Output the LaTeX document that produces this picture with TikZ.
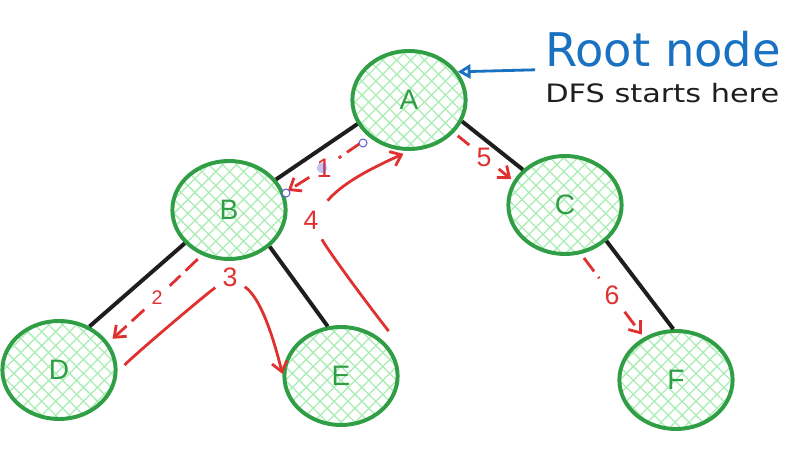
\documentclass[tikz,border=0pt]{standalone}
\usepackage{fontspec}
\setmainfont{Liberation Sans}
\newfontfamily\notefont{DejaVu Sans}
\usepackage{xcolor}
\definecolor{nodegreen}{HTML}{2F9E44}
\definecolor{hatchgreen}{HTML}{A9EDB3}
\definecolor{walkred}{HTML}{E03131}
\definecolor{noteblue}{HTML}{1971C2}
\definecolor{edgeblack}{HTML}{1E1E1E}
\definecolor{handleblue}{HTML}{5B57D1}
\usetikzlibrary{shapes.geometric, arrows.meta, patterns.meta}

\begin{document}
\begin{tikzpicture}[x=0.025cm, y=-0.025cm,
	vertex/.style={ellipse, draw=nodegreen, line width=2.8pt, minimum width=2.83cm, minimum height=2.45cm,
	               text=nodegreen, font=\fontsize{20}{24}\selectfont,
	               preaction={pattern={Lines[angle=45, distance=7pt, line width=0.9pt]}, pattern color=hatchgreen},
	               preaction={pattern={Lines[angle=-45, distance=7pt, line width=0.9pt]}, pattern color=hatchgreen}},
	edge/.style={draw=edgeblack, line width=2.8pt},
	walk/.style={draw=walkred, line width=2pt},
	walkarr/.style={walk, -{Straight Barb[length=7pt, width=11pt]}},
	dashwalk/.style={dash pattern=on 12pt off 5pt},
	num/.style={text=walkred, font=\fontsize{19}{22}\selectfont, inner sep=5pt},
	pointer/.style={draw=noteblue, line width=2pt, -{Triangle[open, length=9pt, width=10pt]}},
	rootnote/.style={text=noteblue, font=\notefont\fontsize{33}{36}\selectfont, inner sep=0pt},
	subnote/.style={text=edgeblack, font=\notefont\fontsize{18}{20}\selectfont, inner sep=0pt},
	handle/.style={draw=handleblue, fill=white, line width=0.7pt}
	]
\fill[white] (0,0) rectangle (785,457);
\useasboundingbox (0,0) rectangle (785,457);

\node[vertex] (A) at (409,100) {A};
\node[vertex] (B) at (229,210) {B};
\node[vertex] (C) at (565,205) {C};
\node[vertex] (D) at (59,370)  {D};
\node[vertex] (E) at (341,376) {E};
\node[vertex] (F) at (676,380) {F};

% tree edges
\draw[edge] (A.205) -- (B.33);
\draw[edge] (B.217) -- (D.55);
\draw[edge] (B.318) -- (E.105);
\draw[edge] (A.338) -- (C.140);
\draw[edge] (C.319) -- (F.93);

% visit order
\node[num] (l1) at (324,168) {1};
\node[num, font=\fontsize{14}{16}\selectfont] (l2) at (157,298) {2};
\node[num] (l3) at (230,277) {3};
\node[num, inner sep=7pt] (l4) at (311,220) {4};
\node[num] (l5) at (484,157) {5};
\node[num] (l6) at (612,295) {6};

\draw[walk, dashwalk, shorten <=7pt] (A.223) -- (l1);
\draw[walkarr, dashwalk, shorten >=3pt] (l1) -- (B.17);
\draw[walk, dashwalk, shorten <=4pt] (B.239) -- (l2);
\draw[walkarr, dashwalk, shorten >=4pt] (l2) -- (D.29);
\draw[walk, shorten <=7pt] (D.358) .. controls +(20,-20) and +(-25,18) .. (l3);
\draw[walkarr] (l3) .. controls +(30,20) and +(-10,-40) .. (E.178);
\draw[walk] ([xshift=6pt, yshift=5pt]E.44) .. controls +(-22,-28) and +(18,32) .. (l4);
\draw[walkarr, shorten >=5pt] (l4) .. controls +(30,-35) and +(-45,20) .. (A.271);
\draw[walk, dashwalk, shorten <=3.5pt] (A.324) -- (l5);
\draw[walkarr, dashwalk, shorten >=2pt] (l5) -- (C.155);
\draw[walk, dashwalk, shorten <=3.5pt] (C.288) -- (l6);
\draw[walkarr, dashwalk, shorten >=2.5pt] (l6) -- (F.127);

% selection marks
\draw[handle] (363,143) circle (0.1cm);
\draw[handle] (286,193) circle (0.1cm);
\fill[handleblue, opacity=0.35] (322,168) circle (0.13cm);

% annotation
\node[rootnote, anchor=base west] (root) at (545,67) {Root node};
\node[subnote, anchor=base west] (dfs) at (545,103) {\scalebox{1.2}[1]{DFS starts here}};
\draw[pointer] ([xshift=-7pt,yshift=-2pt]root.base west) -- (A.30);
\end{tikzpicture}
\end{document}
